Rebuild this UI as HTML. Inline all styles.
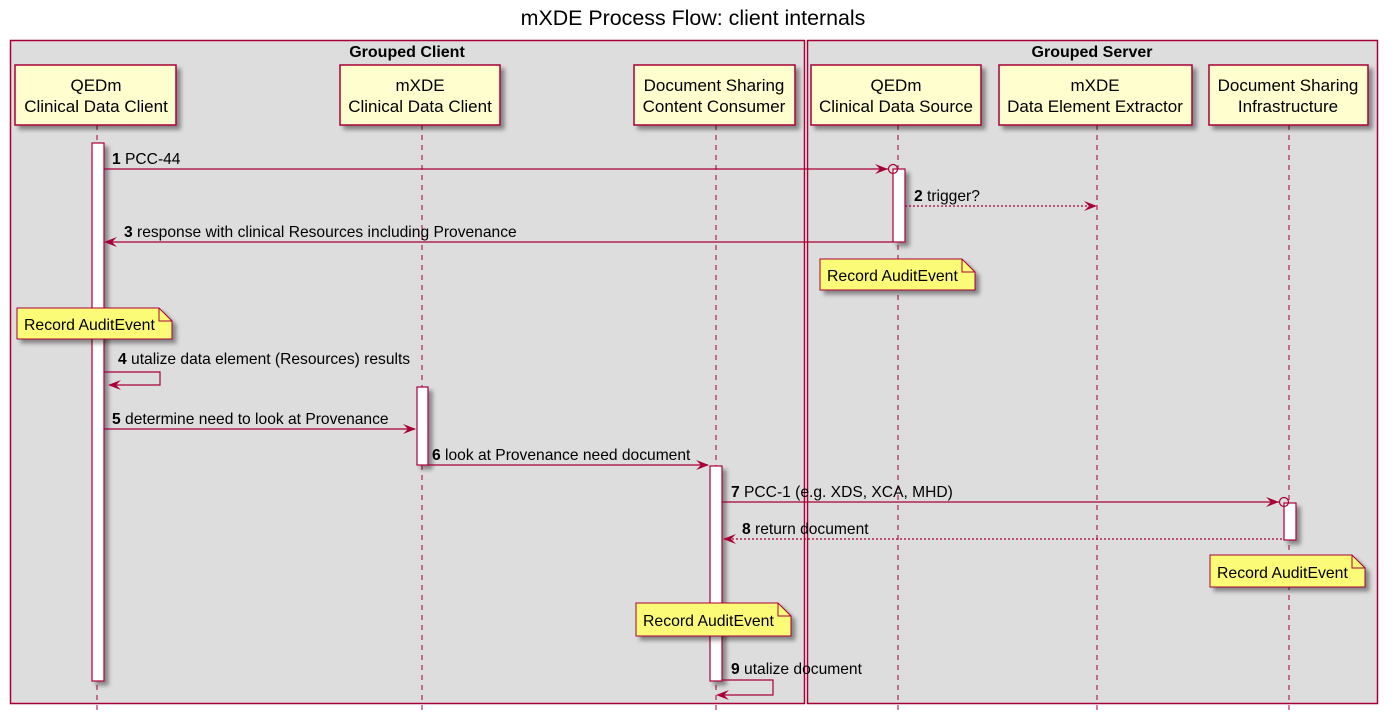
<!DOCTYPE html>
<html><head><meta charset="utf-8"><style>body{margin:0;background:#fff}svg{display:block}text{font-family:"Liberation Sans",sans-serif}</style></head><body>
<svg width="1397" height="713" viewBox="0 0 1397 713" xmlns="http://www.w3.org/2000/svg">
<defs>
<filter id="sh" x="-20%" y="-20%" width="150%" height="150%"><feGaussianBlur in="SourceAlpha" stdDeviation="2"/><feOffset dx="4" dy="4"/><feComponentTransfer><feFuncA type="linear" slope="0.4"/></feComponentTransfer><feMerge><feMergeNode/><feMergeNode in="SourceGraphic"/></feMerge></filter>
</defs>
<text x="693" y="25" font-size="21.4" text-anchor="middle" fill="#000">mXDE Process Flow: client internals</text>
<rect x="10.5" y="40.5" width="794" height="663" fill="#DDDDDD" stroke="#A80036" stroke-width="1.5"/>
<rect x="807.5" y="40.5" width="570" height="663" fill="#DDDDDD" stroke="#A80036" stroke-width="1.5"/>
<text x="407" y="57" font-size="16" font-weight="bold" text-anchor="middle">Grouped Client</text>
<text x="1092" y="57" font-size="16" font-weight="bold" text-anchor="middle">Grouped Server</text>
<g stroke="#A80036" stroke-width="1" stroke-dasharray="5,5">
<line x1="97" y1="125" x2="97" y2="713"/><line x1="422" y1="125" x2="422" y2="713"/><line x1="716" y1="125" x2="716" y2="713"/>
<line x1="898" y1="125" x2="898" y2="713"/><line x1="1097" y1="125" x2="1097" y2="713"/><line x1="1289" y1="125" x2="1289" y2="713"/>
</g>
<g fill="#FEFECE" stroke="#A80036" stroke-width="1.5" filter="url(#sh)">
<rect x="15" y="65" width="161" height="60"/><rect x="340" y="65" width="160" height="60"/><rect x="634" y="65" width="161" height="60"/>
<rect x="811" y="65" width="170" height="60"/><rect x="999" y="65" width="193" height="60"/><rect x="1209" y="65" width="159" height="60"/>
</g>
<g font-size="17" text-anchor="middle">
<text x="96" y="91">QEDm</text><text x="96" y="112">Clinical Data Client</text>
<text x="420" y="91">mXDE</text><text x="420" y="112">Clinical Data Client</text>
<text x="714" y="91">Document Sharing</text><text x="714" y="112">Content Consumer</text>
<text x="896" y="91">QEDm</text><text x="896" y="112">Clinical Data Source</text>
<text x="1095" y="91">mXDE</text><text x="1095" y="112">Data Element Extractor</text>
<text x="1288" y="91">Document Sharing</text><text x="1288" y="112">Infrastructure</text>
</g>
<g fill="#fff" stroke="#A80036" stroke-width="1.2" filter="url(#sh)">
<rect x="92" y="143" width="12" height="538"/><rect x="893" y="169" width="12" height="73"/>
<rect x="417" y="387" width="11" height="78"/><rect x="710" y="466" width="12" height="215"/>
<rect x="1284" y="503" width="12" height="37"/>
</g>
<g fill="#FBFB77" stroke="#A80036" stroke-width="1" filter="url(#sh)">
<path d="M820 259H962L975 272V290H820Z"/><path d="M17 308H159L172 321V339H17Z"/>
<path d="M1210 555H1352L1365 568V587H1210Z"/><path d="M636 603H778L791 616V636H636Z"/>
</g>
<g fill="none" stroke="#A80036" stroke-width="1">
<path d="M962 259V272H975"/><path d="M159 308V321H172"/><path d="M1352 555V568H1365"/><path d="M778 603V616H791"/>
</g>
<g font-size="15.8">
<text x="827" y="281">Record AuditEvent</text><text x="24" y="330">Record AuditEvent</text>
<text x="1217" y="578">Record AuditEvent</text><text x="643" y="626">Record AuditEvent</text>
</g>
<g stroke="#A80036" stroke-width="1.2" fill="none">
<line x1="104" y1="169" x2="888" y2="169"/><circle cx="893" cy="169" r="4.5"/>
<line x1="905" y1="206" x2="1095" y2="206" stroke-dasharray="2,2"/>
<line x1="106" y1="242" x2="893" y2="242"/>
<path d="M104 372H160V385H110"/>
<line x1="104" y1="429" x2="415" y2="429"/>
<line x1="428" y1="465" x2="708" y2="465"/>
<line x1="722" y1="502" x2="1279" y2="502"/><circle cx="1284" cy="502" r="4.5"/>
<line x1="724" y1="539" x2="1284" y2="539" stroke-dasharray="2,2"/>
<path d="M722 680H773V695H718"/>
</g>
<g fill="#A80036">
<path d="M888 169l-13-5 5 5-5 5z"/><path d="M1097 206l-13-5 5 5-5 5z"/>
<path d="M104 242l13-5-5 5 5 5z"/><path d="M108 385l13-5-5 5 5 5z"/>
<path d="M416 429l-13-5 5 5-5 5z"/><path d="M709 465l-13-5 5 5-5 5z"/>
<path d="M1279 502l-13-5 5 5-5 5z"/><path d="M723 539l13-5-5 5 5 5z"/>
<path d="M716 695l13-5-5 5 5 5z"/>
</g>
<g font-size="15.6">
<text x="112" y="164"><tspan font-weight="bold">1</tspan> PCC-44</text>
<text x="914" y="201"><tspan font-weight="bold">2</tspan> trigger?</text>
<text x="124" y="237"><tspan font-weight="bold">3</tspan> response with clinical Resources including Provenance</text>
<text x="118" y="364"><tspan font-weight="bold">4</tspan> utalize data element (Resources) results</text>
<text x="112" y="424"><tspan font-weight="bold">5</tspan> determine need to look at Provenance</text>
<text x="432" y="460"><tspan font-weight="bold">6</tspan> look at Provenance need document</text>
<text x="731" y="497"><tspan font-weight="bold">7</tspan> PCC-1 (e.g. XDS, XCA, MHD)</text>
<text x="742" y="534"><tspan font-weight="bold">8</tspan> return document</text>
<text x="731" y="674"><tspan font-weight="bold">9</tspan> utalize document</text>
</g>
</svg>
</body></html>
